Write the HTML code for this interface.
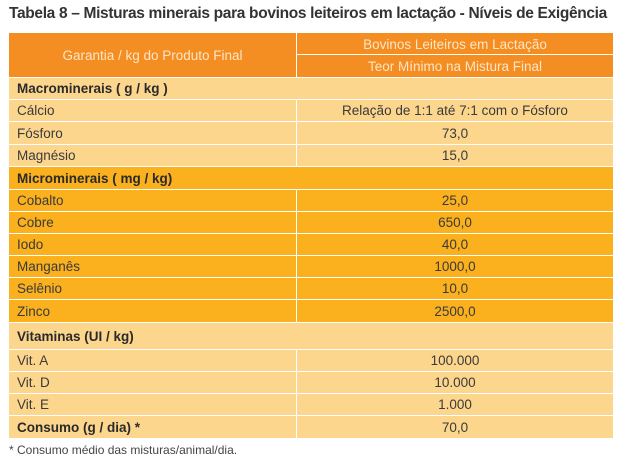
<!DOCTYPE html>
<html><head><meta charset="utf-8"><style>
body{margin:0;width:628px;height:470px;background:#fff;position:relative;overflow:hidden;font-family:"Liberation Sans","DejaVu Sans",sans-serif;color:#3a3a3a}
.t{position:absolute;left:9px;top:5px;font-size:15.5px;font-weight:bold;color:#333;letter-spacing:-0.33px;white-space:nowrap}
.r{position:absolute;left:9px;width:604px;font-size:13.5px;box-sizing:border-box;border-top:1px solid #fff}
.c1{position:absolute;left:0;top:0;bottom:0;padding-left:8px;display:flex;align-items:center}
.c2{position:absolute;left:287px;right:0;top:0;bottom:0;border-left:1.5px solid #fff;display:flex;align-items:center;justify-content:center}
.L{background:#fdd68d}.B{background:#fbb01e}
.h{background:#f48d22;color:#fde6c6}
.b{font-weight:bold;color:#2a2a2a}
.f{position:absolute;left:9px;top:443px;font-size:12px;color:#444}
</style></head><body>
<div class="t">Tabela 8 – Misturas minerais para bovinos leiteiros em lactação - Níveis de Exigência</div>
<div class="r h" style="top:33px;height:44px;border-top:none">
 <div class="c1" style="width:287px;justify-content:center;padding:0">Garantia / kg do Produto Final</div>
 <div class="c2" style="bottom:22px">Bovinos Leiteiros em Lactação</div>
 <div class="c2" style="top:21px;border-top:1.5px solid #fff">Teor Mínimo na Mistura Final</div>
</div>
<div class="r L" style="top:77px;height:22px"><div class="c1 b">Macrominerais ( g / kg )</div></div>
<div class="r L" style="top:99px;height:22px"><div class="c1">Cálcio</div><div class="c2">Relação de 1:1 até 7:1 com o Fósforo</div></div>
<div class="r L" style="top:121px;height:23px"><div class="c1">Fósforo</div><div class="c2">73,0</div></div>
<div class="r L" style="top:144px;height:22px"><div class="c1">Magnésio</div><div class="c2">15,0</div></div>
<div class="r B" style="top:166px;height:23px"><div class="c1 b">Microminerais ( mg / kg)</div></div>
<div class="r B" style="top:189px;height:22px"><div class="c1">Cobalto</div><div class="c2">25,0</div></div>
<div class="r B" style="top:211px;height:22px"><div class="c1">Cobre</div><div class="c2">650,0</div></div>
<div class="r B" style="top:233px;height:22px"><div class="c1">Iodo</div><div class="c2">40,0</div></div>
<div class="r B" style="top:255px;height:22px"><div class="c1">Manganês</div><div class="c2">1000,0</div></div>
<div class="r B" style="top:277px;height:22px"><div class="c1">Selênio</div><div class="c2">10,0</div></div>
<div class="r B" style="top:299px;height:23px"><div class="c1">Zinco</div><div class="c2">2500,0</div></div>
<div class="r L" style="top:322px;height:27px"><div class="c1 b">Vitaminas (UI / kg)</div></div>
<div class="r L" style="top:349px;height:22px"><div class="c1">Vit. A</div><div class="c2">100.000</div></div>
<div class="r L" style="top:371px;height:22px"><div class="c1">Vit. D</div><div class="c2">10.000</div></div>
<div class="r L" style="top:393px;height:22px"><div class="c1">Vit. E</div><div class="c2">1.000</div></div>
<div class="r L" style="top:415px;height:23px"><div class="c1 b">Consumo (g / dia) *</div><div class="c2">70,0</div></div>
<div class="f">* Consumo médio das misturas/animal/dia.</div>
</body></html>
